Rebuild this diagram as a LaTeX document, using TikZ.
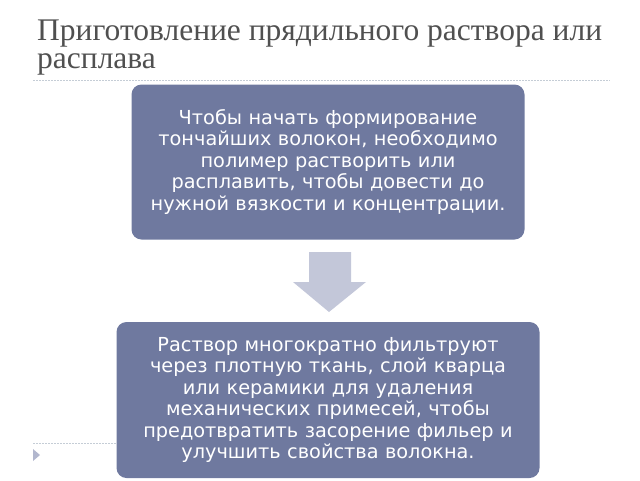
\documentclass[tikz,border=0pt]{standalone}
\usepackage{fontspec}
\setmainfont{Liberation Serif}
\newfontfamily\boxfont{DejaVu Sans}
\usetikzlibrary{positioning}
\definecolor{slate}{HTML}{6F799F}
\definecolor{arrowgray}{HTML}{C3C7D9}
\definecolor{titlegray}{HTML}{505050}
\definecolor{rulegray}{HTML}{C5CDD6}

\begin{document}
\begin{tikzpicture}[
    x=1pt, y=-1pt,
    stepbox/.style={draw=none, fill=slate, rounded corners=10pt, text=white, align=center,
        font=\boxfont\fontsize{19.3}{21.5}\selectfont},
    rule/.style={rulegray, dash pattern=on 1.5pt off 1.5pt, line width=0.8pt}
]
\useasboundingbox (0,0) rectangle (640,480);

% title and rules
\node[anchor=north west, inner sep=0pt, text=titlegray, align=left,
      font=\fontsize{31.5}{28}\selectfont] (title) at (37,20)
      {Приготовление прядильного раствора или\\расплава};
\coordinate (ruleA) at (33,80);
\coordinate (ruleB) at (610,80);
\draw[rule] (ruleA) -- (ruleB);
\coordinate (ruleC) at (33,443);
\coordinate (ruleD) at (117,443);
\draw[rule] (ruleC) -- (ruleD);
\fill[arrowgray!80!slate] (33,449) -- (40,455) -- (33,461) -- cycle;

% boxes
\node[stepbox, minimum width=393pt, minimum height=155pt, text width=380pt] (first) at (328,162)
    {Чтобы начать формирование\\тончайших волокон, необходимо\\полимер растворить или\\расплавить, чтобы довести до\\нужной вязкости и концентрации.};
\node[stepbox, minimum width=423pt, minimum height=156pt, text width=410pt] (second) at (328,400)
    {Раствор многократно фильтруют\\через плотную ткань, слой кварца\\или керамики для удаления\\механических примесей, чтобы\\предотвратить засорение фильер и\\улучшить свойства волокна.};

% arrow between the boxes
\fill[arrowgray] (309,252) -- (351,252) -- (351,282) -- (366,282) -- (329,312)
    -- (293,282) -- (309,282) -- cycle;

\end{tikzpicture}
\end{document}
